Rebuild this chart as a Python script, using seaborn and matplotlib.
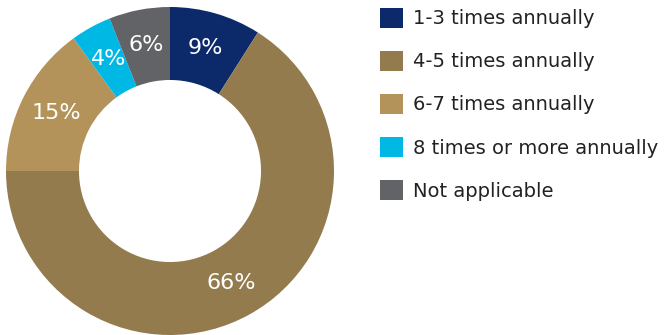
import matplotlib
matplotlib.use("Agg")
import matplotlib.pyplot as plt
import seaborn as sns
from matplotlib.patches import Patch

categories = ["1-3 times annually", "4-5 times annually", "6-7 times annually",
              "8 times or more annually", "Not applicable"]
shares = [9, 66, 15, 4, 6]
colors = ["#0C2A6A", "#937B4E", "#B39359", "#00B8E4", "#626366"]

sns.set_theme(style="white")
plt.rcParams["font.family"] = ["DejaVu Sans"]
palette = sns.color_palette(colors)

fig = plt.figure(figsize=(6.68, 3.35), dpi=100)
ax = fig.add_axes([6 / 668, 0.0, 328 / 668, 328 / 335])

wedges, _, autotexts = ax.pie(
    shares,
    colors=palette,
    startangle=90,
    counterclock=False,
    autopct=lambda p: f"{p:.0f}%",
    pctdistance=0.78,
    wedgeprops=dict(width=0.445, edgecolor="none"),
    textprops=dict(color="white", fontsize=16),
)
ax.set_xlim(-1, 1)
ax.set_ylim(-1, 1)
ax.set_aspect("equal")

handles = [Patch(facecolor=c, edgecolor="none") for c in palette]
fig.legend(
    handles, categories,
    loc="upper left", bbox_to_anchor=(372 / 668, 1.0),
    frameon=False, fontsize=14,
    handlelength=1.2, handleheight=1.2, handletextpad=0.5,
    labelspacing=1.16, borderaxespad=0.0,
    labelcolor="#222222",
)

fig.savefig("out.png", dpi=100)
